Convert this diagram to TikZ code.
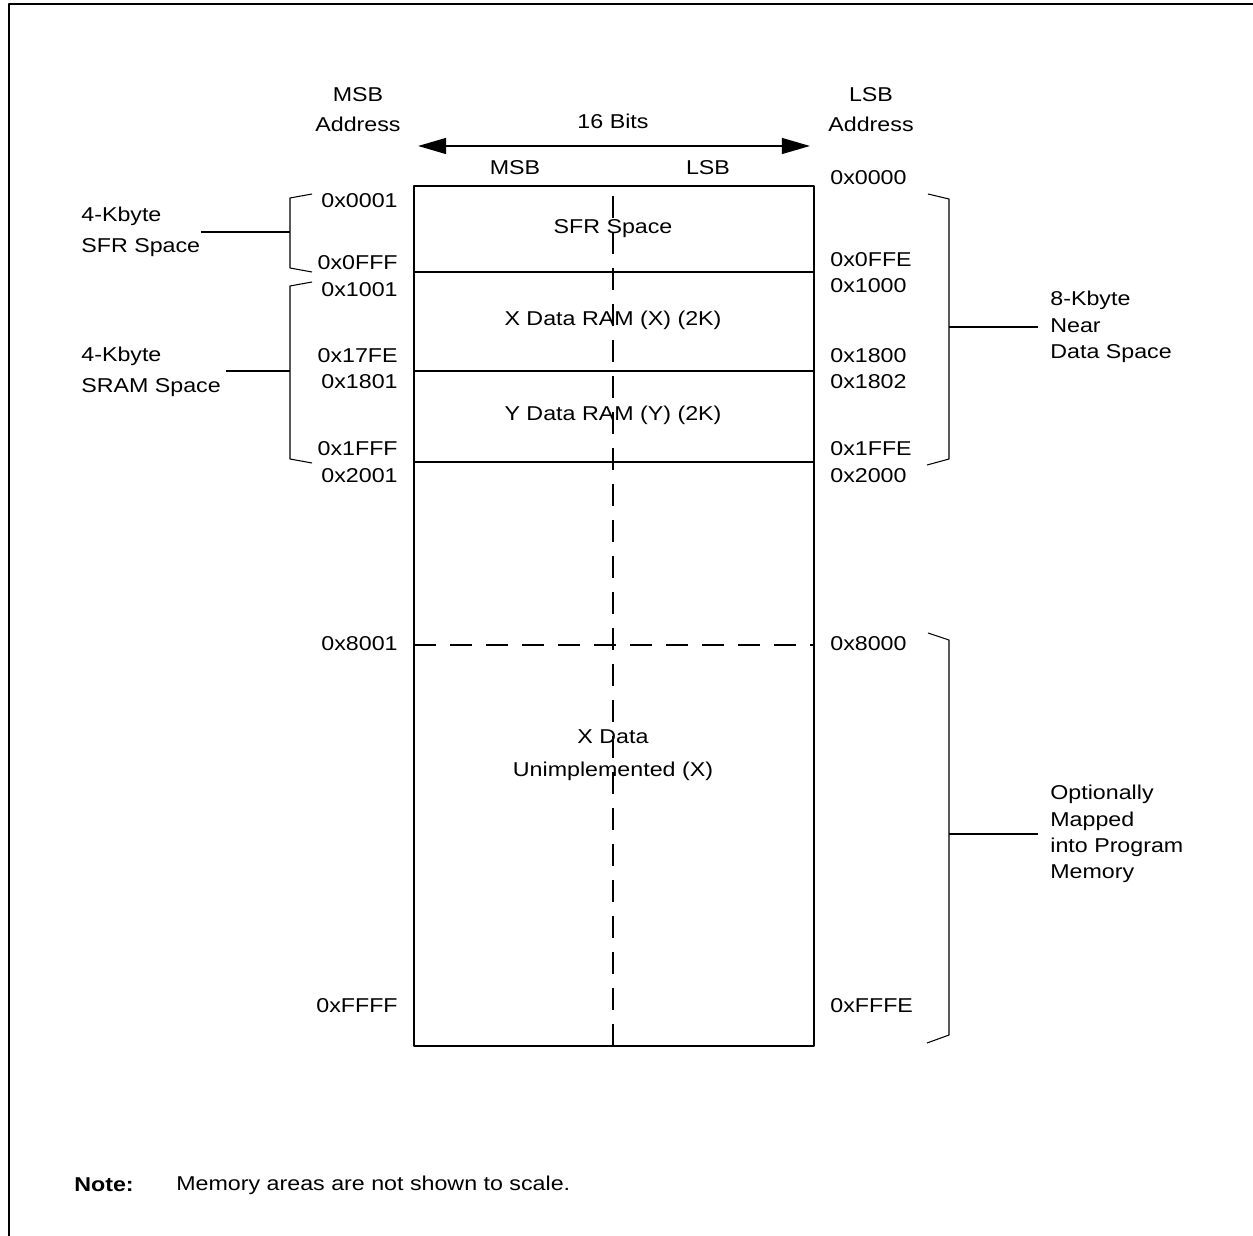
\documentclass[tikz,border=0pt]{standalone}
\usepackage{fontspec}
\setmainfont{Liberation Sans}[FakeStretch=1.16]
\usetikzlibrary{arrows.meta}
\tikzset{
  lbl/.style={inner sep=0pt, font=\fontsize{11.4}{15}\selectfont},
  addrL/.style={lbl, anchor=east},
  addrR/.style={lbl, anchor=west},
  sidelbl/.style={lbl, anchor=west, align=left},
  bracket/.style={line width=0.6pt},
  memline/.style={line width=1.1pt},
  splitline/.style={line width=1.1pt, dash pattern=on 12.3pt off 8.2pt},
  bighead/.style={line width=1.1pt, {Triangle[length=16pt,width=9pt]}-{Triangle[length=16pt,width=9pt]}},
}
\begin{document}
\begin{tikzpicture}[x=0.02cm,y=-0.02cm,line join=round]
  \useasboundingbox (0,0) rectangle (1253,1236);
  % frame
  \draw[memline] (9,1236) -- (9,4) -- (1253,4);

  % column headings
  \node[lbl, align=center, font=\fontsize{11.4}{17}\selectfont] (msbaddr) at (358,110) {MSB\\Address};
  \node[lbl, align=center, font=\fontsize{11.4}{17}\selectfont] (lsbaddr) at (871,110) {LSB\\Address};
  \node[lbl] (bits) at (613,121) {16 Bits};
  \coordinate (arrl) at (418,146);
  \coordinate (arrr) at (810,146);
  \draw[bighead] (arrl) -- (arrr);
  \node[lbl] (msbcol) at (515,168) {MSB};
  \node[lbl] (lsbcol) at (708,168) {LSB};

  % memory block
  \coordinate (tl) at (414,186);
  \coordinate (br) at (814,1046);
  \draw[memline] (tl) rectangle (br);
  \draw[memline] (414,272) -- (814,272);
  \draw[memline] (414,371) -- (814,371);
  \draw[memline] (414,462) -- (814,462);
  \draw[splitline] (414,645) -- (814,645);
  \draw[splitline] (613,1046) -- (613,186);

  \node[lbl] (sfr) at (613,229) {SFR Space};
  \node[lbl] (xram) at (613,320) {X Data RAM (X) (2K)};
  \node[lbl] (yram) at (613,415) {Y Data RAM (Y) (2K)};
  \node[lbl, align=center, font=\fontsize{11.4}{19}\selectfont] (xunimpl) at (613,755) {X Data\\Unimplemented (X)};

  % MSB addresses
  \node[addrL] (a0001) at (398,201) {0x0001};
  \node[addrL] (a0FFF) at (398,263) {0x0FFF};
  \node[addrL] (a1001) at (398,290) {0x1001};
  \node[addrL] (a17FE) at (398,356) {0x17FE};
  \node[addrL] (a1801) at (398,382) {0x1801};
  \node[addrL] (a1FFF) at (398,449) {0x1FFF};
  \node[addrL] (a2001) at (398,476) {0x2001};
  \node[addrL] (a8001) at (398,644) {0x8001};
  \node[addrL] (aFFFF) at (398,1006) {0xFFFF};

  % LSB addresses
  \node[addrR] (b0000) at (830,178) {0x0000};
  \node[addrR] (b0FFE) at (830,260) {0x0FFE};
  \node[addrR] (b1000) at (830,286) {0x1000};
  \node[addrR] (b1800) at (830,356) {0x1800};
  \node[addrR] (b1802) at (830,382) {0x1802};
  \node[addrR] (b1FFE) at (830,449) {0x1FFE};
  \node[addrR] (b2000) at (830,476) {0x2000};
  \node[addrR] (b8000) at (830,644) {0x8000};
  \node[addrR] (bFFFE) at (830,1006) {0xFFFE};

  % left brackets
  \node[sidelbl, font=\fontsize{11.4}{17.5}\selectfont] (sfrkb) at (81,232) {4-Kbyte\\SFR Space};
  \node[sidelbl, font=\fontsize{11.4}{17.5}\selectfont] (sramkb) at (81,372) {4-Kbyte\\SRAM Space};
  \draw[bracket] (312,194) -- (290,198) -- (290,268) -- (312,272);
  \draw[bracket] (312,282) -- (290,286) -- (290,459) -- (312,463);
  \coordinate (sfrmid) at (290,232);
  \coordinate (srammid) at (290,371);
  \draw[line width=0.9pt] (sfrkb.east |- sfrmid) -- (sfrmid);
  \draw[line width=0.9pt, shorten <=3pt] (sramkb.east |- srammid) -- (srammid);

  % right brackets
  \node[sidelbl] (nearkb) at (1050,327) {8-Kbyte\\Near\\Data Space};
  \node[sidelbl] (mapped) at (1050,834) {Optionally\\Mapped\\into Program\\Memory};
  \draw[bracket] (928,194) -- (949,199) -- (949,459) -- (927,465);
  \draw[bracket] (928,633) -- (949,640) -- (949,1035) -- (927,1043);
  \coordinate (nearmid) at (949,327);
  \coordinate (mapmid) at (949,834);
  \draw[line width=0.9pt, shorten >=7pt] (nearmid) -- (nearkb.west |- nearmid);
  \draw[line width=0.9pt, shorten >=7pt] (mapmid) -- (mapped.west |- mapmid);

  % note
  \node[lbl, anchor=west, font=\fontsize{11.4}{15}\selectfont\bfseries] (note) at (74,1185) {Note:};
  \node[lbl, anchor=west] (notetext) at (176,1185) {Memory areas are not shown to scale.};
\end{tikzpicture}
\end{document}
